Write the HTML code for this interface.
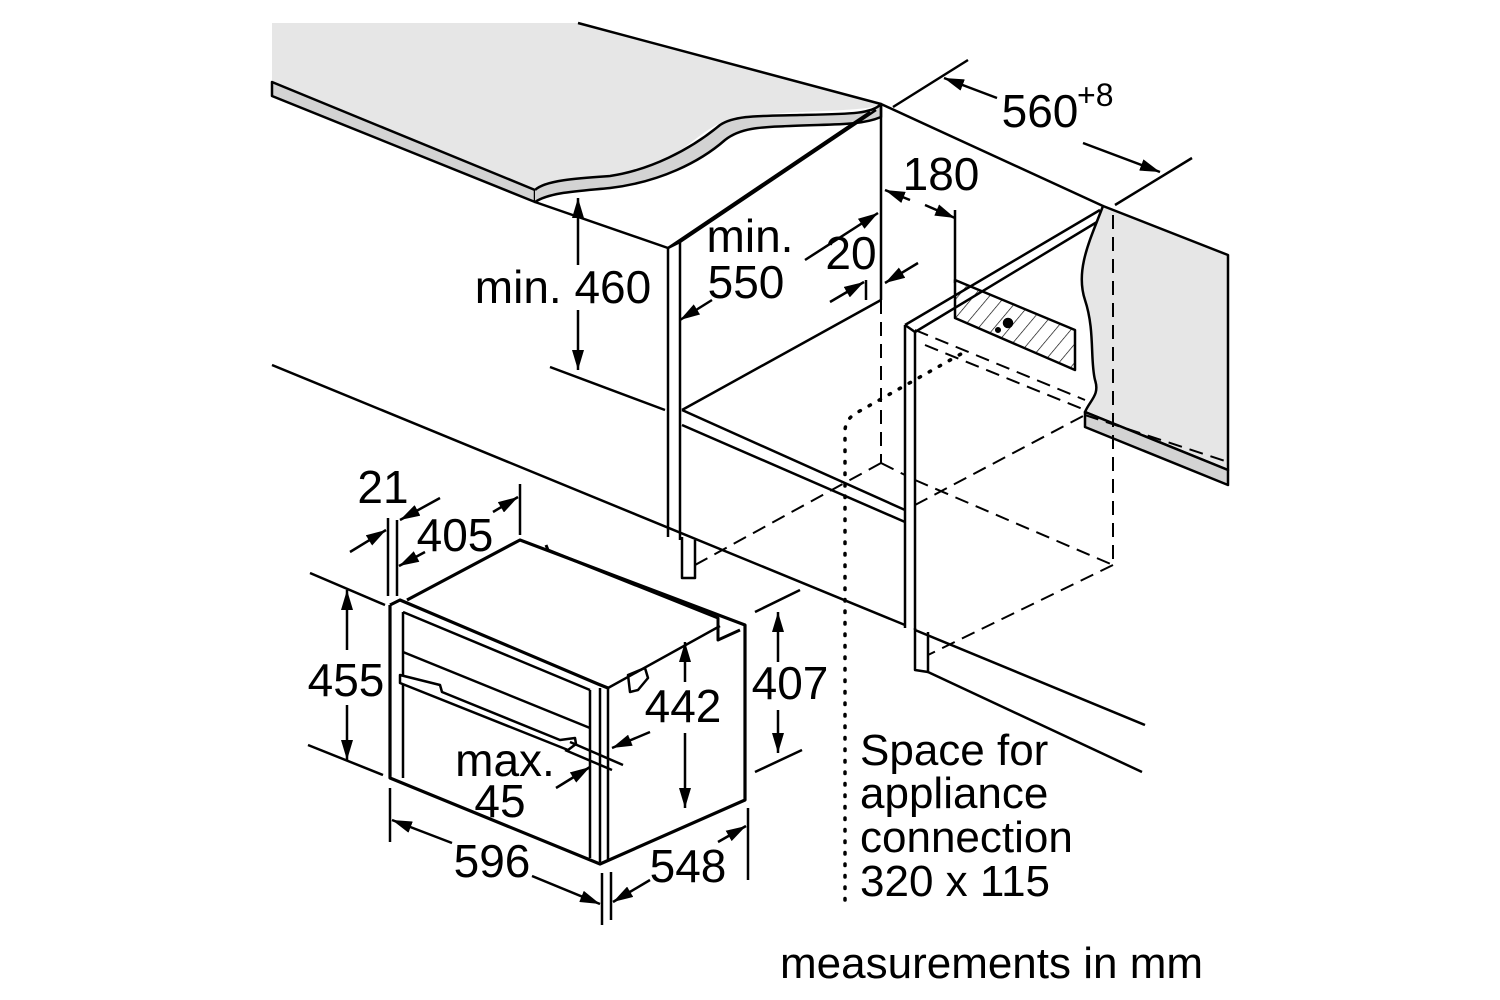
<!DOCTYPE html>
<html><head><style>
html,body{margin:0;padding:0;background:#fff;}
svg{display:block;}
text{font-family:"Liberation Sans",Arial,sans-serif;fill:#000;}
</style></head><body>
<svg width="1500" height="1000" viewBox="0 0 1500 1000" xmlns="http://www.w3.org/2000/svg">
<defs>
<marker id="a" viewBox="0 0 20 12" refX="20" refY="6" markerWidth="20" markerHeight="12" markerUnits="userSpaceOnUse" orient="auto-start-reverse">
<path d="M0,0 L20,6 L0,12 Z" fill="#000"/></marker>
<pattern id="h" width="12" height="12" patternUnits="userSpaceOnUse" patternTransform="rotate(40)">
<line x1="0" y1="0" x2="0" y2="12" stroke="#000" stroke-width="1.3"/></pattern>
</defs>
<g fill="none" stroke="#000" stroke-width="2.5" stroke-linejoin="round">
<!-- left worktop -->
<path d="M272,23 L578,23 L881,104 C870,112 800,110 745,116 C700,122 690,155 640,172 C600,185 560,178 540,185 L535,190 L272,82 Z" fill="#e6e6e6" stroke="none"/>
<path d="M272,82 L535,190 L535,202 L272,96 Z" fill="#d3d3d3"/>
<path d="M535,190 C545,180 580,178 610,176 C650,170 690,150 720,125 C735,115 760,116 800,115 C850,114 872,114 881,104 L881,117 C860,126 830,124 790,126 C760,127 740,128 725,140 C700,162 660,182 610,188 C580,191 550,192 535,202" fill="#d3d3d3"/>
<line x1="578" y1="23" x2="881" y2="104"/>
<line x1="881" y1="104" x2="1103" y2="206"/>
<!-- right worktop -->
<path d="M1103,206 L1228,255 L1228,470 L1085,412 C1090,400 1100,395 1095,380 C1090,360 1095,330 1085,300 C1075,270 1090,240 1103,206 Z" fill="#e6e6e6"/>
<path d="M1085,412 L1228,470 L1228,485 L1085,427 Z" fill="#d3d3d3"/>
<!-- 560 dimension -->
<line x1="893" y1="107" x2="968" y2="60"/>
<line x1="1115" y1="205" x2="1192" y2="158"/>
<line x1="997" y1="98" x2="944" y2="78" marker-end="url(#a)"/>
<line x1="1083" y1="143" x2="1160" y2="172" marker-end="url(#a)"/>
<!-- left cabinet -->
<line x1="881" y1="104" x2="881" y2="300"/>
<line x1="535" y1="202" x2="668" y2="248"/>
<line x1="668" y1="248" x2="870" y2="112"/>
<line x1="680" y1="242" x2="876" y2="110"/>
<line x1="668" y1="248" x2="680" y2="242"/>
<line x1="668" y1="248" x2="668" y2="537"/>
<line x1="680" y1="242" x2="680" y2="540"/>
<path d="M682,537 L682,578 L695,578 L695,540"/>
<line x1="682" y1="410" x2="881" y2="300"/>
<line x1="682" y1="410" x2="905" y2="510"/>
<line x1="682" y1="425" x2="905" y2="522"/>
<line x1="550" y1="367" x2="665" y2="410"/>
<!-- long floor lines -->
<line x1="272" y1="365" x2="905" y2="625"/>
<line x1="915" y1="630" x2="1145" y2="725"/>
<line x1="928" y1="672" x2="1142" y2="772"/>
<!-- right cabinet -->
<line x1="905" y1="325" x2="1100" y2="210"/>
<line x1="915" y1="332" x2="1097" y2="222"/>
<line x1="905" y1="325" x2="915" y2="332"/>
<line x1="905" y1="325" x2="905" y2="628"/>
<line x1="915" y1="332" x2="915" y2="630"/>
<path d="M915,628 L915,670 L928,672 L928,632"/>
<!-- hatched box -->
<path d="M955,280 L955,318 L1075,370 L1075,330 Z" fill="url(#h)"/>
<circle cx="1008" cy="323" r="4" fill="#000"/>
<circle cx="998" cy="330" r="1.8" fill="#000"/>
<!-- dashed -->
<g stroke-dasharray="14,8" stroke-width="2">
<line x1="881" y1="300" x2="881" y2="463"/>
<line x1="881" y1="463" x2="695" y2="565"/>
<line x1="881" y1="463" x2="905" y2="475"/>
<line x1="915" y1="330" x2="1085" y2="400"/>
<line x1="925" y1="345" x2="1085" y2="410"/>
<line x1="915" y1="480" x2="1113" y2="565"/>
<line x1="915" y1="505" x2="1085" y2="415"/>
<line x1="1113" y1="215" x2="1113" y2="565"/>
<line x1="1113" y1="565" x2="928" y2="655"/>
<line x1="1085" y1="415" x2="1228" y2="462"/>
</g>
<!-- dotted -->
<path d="M845,900 L845,430 Q846,418 858,412 L968,350" stroke-dasharray="1.5,10" stroke-linecap="round" stroke-width="3.5"/>
<!-- 180 / 20 / 550 dims -->
<line x1="955" y1="210" x2="955" y2="283"/>
<line x1="910" y1="200" x2="885" y2="190" marker-end="url(#a)"/>
<line x1="925" y1="205" x2="955" y2="218" marker-end="url(#a)"/>
<line x1="918" y1="263" x2="885" y2="283" marker-end="url(#a)"/>
<line x1="866" y1="280" x2="866" y2="300"/>
<line x1="830" y1="302" x2="864" y2="282" marker-end="url(#a)"/>
<line x1="805" y1="260" x2="878" y2="213" marker-end="url(#a)"/>
<line x1="712" y1="300" x2="680" y2="320" marker-end="url(#a)"/>
<!-- 460 -->
<line x1="578" y1="265" x2="578" y2="198" marker-end="url(#a)"/>
<line x1="578" y1="310" x2="578" y2="370" marker-end="url(#a)"/>
<!-- oven -->
<g stroke-width="3.2">
<path d="M390,605 L390,778 L600,864 L745,800 L745,625 L520,540 L407,600"/>
<path d="M390,605 L400,600 L598,684 L608,688"/>
</g>
<line x1="403" y1="612" x2="403" y2="778"/>
<line x1="403" y1="612" x2="590" y2="690"/>
<line x1="403" y1="652" x2="590" y2="728"/>
<line x1="590" y1="690" x2="590" y2="858"/>
<line x1="600" y1="688" x2="600" y2="862"/>
<line x1="608" y1="688" x2="608" y2="860"/>
<line x1="608" y1="688" x2="720" y2="626"/>
<path d="M546,545 L548,550 L718,618 L718,640 L740,630" stroke-width="3"/>
<path d="M400,675 L440,685 L442,692 L560,740 L575,738 L576,744 L568,750 L400,683 Z" fill="#fff"/>
<path d="M628,675 L645,668 L648,678 L638,690 L630,692 Z"/>
<!-- 455 -->
<line x1="310" y1="573" x2="385" y2="605"/>
<line x1="308" y1="745" x2="383" y2="775"/>
<line x1="347" y1="650" x2="347" y2="590" marker-end="url(#a)"/>
<line x1="347" y1="705" x2="347" y2="760" marker-end="url(#a)"/>
<!-- 21/405 -->
<line x1="388" y1="518" x2="388" y2="596"/>
<line x1="397" y1="520" x2="397" y2="596"/>
<line x1="520" y1="484" x2="520" y2="535"/>
<line x1="350" y1="552" x2="386" y2="530" marker-end="url(#a)"/>
<line x1="440" y1="498" x2="400" y2="520" marker-end="url(#a)"/>
<line x1="425" y1="552" x2="399" y2="566" marker-end="url(#a)"/>
<line x1="493" y1="512" x2="518" y2="497" marker-end="url(#a)"/>
<!-- 596 -->
<line x1="390" y1="788" x2="390" y2="842"/>
<line x1="602" y1="873" x2="602" y2="925"/>
<line x1="452" y1="843" x2="392" y2="820" marker-end="url(#a)"/>
<line x1="532" y1="876" x2="600" y2="904" marker-end="url(#a)"/>
<!-- 548 -->
<line x1="748" y1="808" x2="748" y2="880"/>
<line x1="611" y1="872" x2="611" y2="920"/>
<line x1="650" y1="880" x2="613" y2="902" marker-end="url(#a)"/>
<line x1="718" y1="842" x2="746" y2="826" marker-end="url(#a)"/>
<!-- 407 -->
<line x1="755" y1="612" x2="800" y2="590"/>
<line x1="755" y1="772" x2="802" y2="750"/>
<line x1="778" y1="662" x2="778" y2="612" marker-end="url(#a)"/>
<line x1="778" y1="710" x2="778" y2="753" marker-end="url(#a)"/>
<!-- 442 -->
<line x1="685" y1="682" x2="685" y2="642" marker-end="url(#a)"/>
<line x1="685" y1="733" x2="685" y2="808" marker-end="url(#a)"/>
<!-- max 45 -->
<line x1="570" y1="742" x2="623" y2="765"/>
<line x1="565" y1="750" x2="612" y2="770"/>
<line x1="650" y1="732" x2="612" y2="748" marker-end="url(#a)"/>
<line x1="556" y1="788" x2="590" y2="767" marker-end="url(#a)"/>
</g>
<g font-size="46">
<text x="563" y="303" text-anchor="middle">min. 460</text>
<text x="750" y="252" text-anchor="middle">min.</text>
<text x="746" y="298" text-anchor="middle">550</text>
<text x="851" y="269" text-anchor="middle">20</text>
<text x="941" y="190" text-anchor="middle">180</text>
<text x="1040" y="127" text-anchor="middle">560</text>
<text x="1077" y="106" font-size="32">+8</text>
<text x="383" y="503" text-anchor="middle">21</text>
<text x="455" y="551" text-anchor="middle">405</text>
<text x="346" y="696" text-anchor="middle">455</text>
<text x="790" y="699" text-anchor="middle">407</text>
<text x="683" y="722" text-anchor="middle">442</text>
<text x="505" y="776" text-anchor="middle">max.</text>
<text x="500" y="817" text-anchor="middle">45</text>
<text x="492" y="877" text-anchor="middle">596</text>
<text x="688" y="882" text-anchor="middle">548</text>
<text x="860" y="765" font-size="44">Space for</text>
<text x="860" y="808" font-size="44">appliance</text>
<text x="860" y="852" font-size="44">connection</text>
<text x="860" y="896" font-size="44">320 x 115</text>
<text x="780" y="978" font-size="44">measurements in mm</text>
</g>
</svg>
</body></html>
